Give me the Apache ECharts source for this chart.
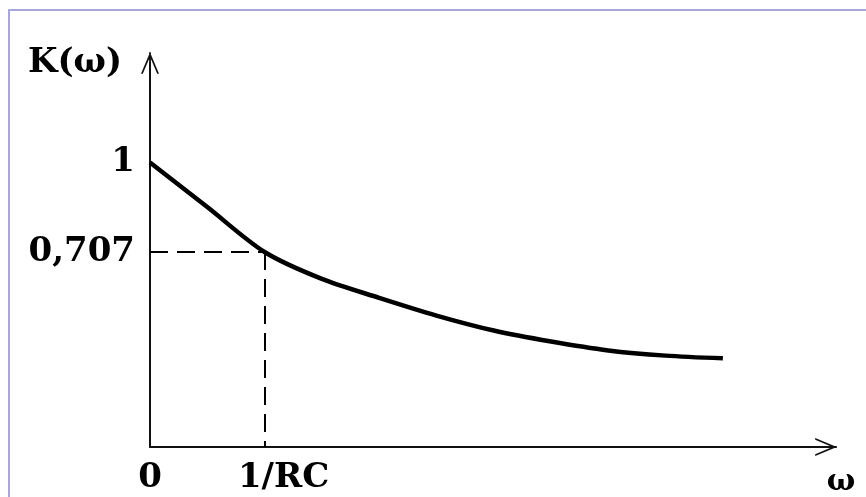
<!DOCTYPE html>
<html lang="en" style="height: 100%">
<head>
<meta charset="utf-8">
<title>K(ω)</title>
</head>
<body style="height: 100%; margin: 0; background: #fff">
<div id="frame" style="position:absolute; left:8px; top:9px; right:0; bottom:0; border-top:2px solid #a8a8d8; border-left:2px solid #a8a8d8;"></div>
<div id="container" style="position:absolute; left:0; top:0; width:866px; height:497px"></div>

<script type="text/javascript" src="https://cdn.jsdelivr.net/npm/echarts/dist/echarts.min.js"></script>

<script type="text/javascript">
var dom = document.getElementById('container');
var myChart = echarts.init(dom, null, { renderer: 'canvas' });
var option;

// omega in units of 1/RC, K
var omega = [0, 0.5, 1, 1.5, 2, 2.5, 3, 3.5, 4, 4.5, 5];
var gain = [1.0, 0.854, 0.707, 0.619, 0.557, 0.499, 0.450, 0.414, 0.385, 0.368, 0.359];
var yTicks = [1, 0.707];
var yTickLabels = ['1', '0,707'];
var xTicks = [0, 1];
var xTickLabels = ['0', '1/RC'];
var cutoff = [1, 0.707];

var curve = omega.map(function (w, i) {
    return [w, gain[i]];
});

var arrow = 'path://M10,0 L20,24 L18,24 L10,5 L2,24 L0,24 Z M9,0 L11,0 L11,24 L9,24 Z M10,0 L13,8 L7,8 Z';
var serif = 'DejaVu Serif';
var yMin = 0.069;

option = {
    backgroundColor: 'transparent',
    animation: false,
    grid: {
        left: 150,
        right: 40,
        top: 63,
        bottom: 48
    },
    xAxis: {
        type: 'value',
        min: 0,
        max: 5.9,
        name: 'ω',
        nameLocation: 'end',
        nameGap: 15,
        nameTextStyle: {
            fontFamily: serif,
            fontSize: 30,
            fontWeight: 'bold',
            color: '#000',
            align: 'center',
            verticalAlign: 'top',
            padding: [20, 0, 0, 0]
        },
        axisLine: {
            lineStyle: { color: '#111', width: 2 },
            symbol: ['none', arrow],
            symbolSize: [18, 28]
        },
        axisTick: { show: false },
        splitLine: { show: false },
        axisLabel: {
            customValues: xTicks,
            margin: 14,
            fontFamily: serif,
            fontSize: 34,
            fontWeight: 'bold',
            color: '#000',
            formatter: function (v) {
                var i = xTicks.indexOf(v);
                if (i === 1) {
                    return '{s|' + xTickLabels[i] + '}';
                }
                return i >= 0 ? xTickLabels[i] : '';
            },
            rich: {
                s: {
                    fontFamily: serif,
                    fontSize: 34,
                    fontWeight: 'bold',
                    color: '#000',
                    padding: [0, 0, 0, 38]
                }
            }
        }
    },
    yAxis: {
        type: 'value',
        min: yMin,
        max: 1.3255,
        name: 'K(ω)',
        nameLocation: 'end',
        nameGap: 0,
        nameTextStyle: {
            fontFamily: serif,
            fontSize: 34,
            fontWeight: 'bold',
            color: '#000',
            align: 'right',
            verticalAlign: 'middle',
            padding: [0, 28, 0, 0]
        },
        axisLine: {
            lineStyle: { color: '#111', width: 2 },
            symbol: ['none', arrow],
            symbolSize: [18, 22]
        },
        axisTick: { show: false },
        splitLine: { show: false },
        axisLabel: {
            customValues: yTicks,
            margin: 15,
            fontFamily: serif,
            fontSize: 34,
            fontWeight: 'bold',
            color: '#000',
            formatter: function (v) {
                var i = yTicks.indexOf(v);
                return i >= 0 ? yTickLabels[i] : '';
            }
        }
    },
    series: [
        {
            type: 'line',
            data: curve,
            smooth: 0.3,
            showSymbol: false,
            lineStyle: { color: '#000', width: 4.5 },
            markLine: {
                silent: true,
                symbol: 'none',
                label: { show: false },
                lineStyle: { color: '#000', width: 2, type: [18, 9] },
                data: [
                    [{ coord: [0, cutoff[1]] }, { coord: [cutoff[0], cutoff[1]] }],
                    [{ coord: [cutoff[0], cutoff[1]] }, { coord: [cutoff[0], yMin] }]
                ]
            }
        }
    ]
};

if (option && typeof option === 'object') {
    myChart.setOption(option);
}

window.addEventListener('resize', myChart.resize);
</script>
</body>
</html>
